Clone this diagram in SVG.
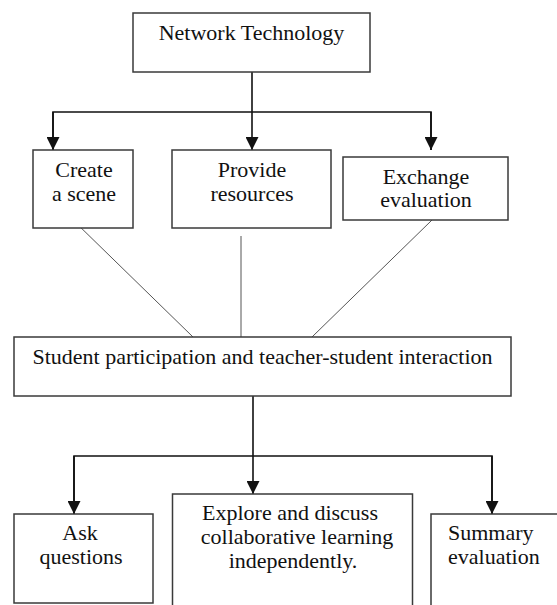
<svg xmlns="http://www.w3.org/2000/svg" width="557" height="605" viewBox="0 0 557 605">
<defs>
<style>
.box{fill:#fff;stroke:#3a3a3a;stroke-width:1.5}
.t{font-family:'Liberation Serif','Times New Roman','DejaVu Serif',serif;font-size:22px;fill:#111;text-anchor:middle}
.tl{text-anchor:start}
.c{fill:none;stroke:#111;stroke-width:1.6}
.d{fill:none;stroke:#555;stroke-width:1}
</style>
<marker id="ah" viewBox="0 0 10 10" refX="10" refY="5" markerWidth="13" markerHeight="13" markerUnits="userSpaceOnUse" orient="auto">
<path d="M0,0 L10,5 L0,10 z" fill="#111"/>
</marker>
</defs>
<rect width="557" height="605" fill="#fff"/>
<g id="connectors">
<path class="c" d="M252,72 V150" marker-end="url(#ah)"/>
<path class="c" d="M53,150 V112 H431 V150" />
<path class="c" d="M53,112 V150" marker-end="url(#ah)"/>
<path class="c" d="M431,112 V150" marker-end="url(#ah)"/>
<line class="d" x1="73" y1="220" x2="193" y2="337"/>
<line class="d" x1="241" y1="236" x2="241" y2="337"/>
<line class="d" x1="432" y1="220" x2="312" y2="337"/>
<path class="c" d="M253,396 V494" marker-end="url(#ah)"/>
<path class="c" d="M74,514 V456 H492 V514"/>
<path class="c" d="M74,456 V514" marker-end="url(#ah)"/>
<path class="c" d="M492,456 V514" marker-end="url(#ah)"/>
</g>
<g font-family="Liberation Serif, DejaVu Serif, serif">
<g id="network">
<rect class="box" x="133" y="13" width="237" height="59"/>
<text class="t" x="251.5" y="40">Network Technology</text>
</g>
<g id="create">
<rect class="box" x="33" y="150" width="100" height="78"/>
<text class="t" x="84" y="177">Create</text>
<text class="t" x="84" y="201">a scene</text>
</g>
<g id="provide">
<rect class="box" x="172" y="150" width="159" height="78"/>
<text class="t" x="252" y="177">Provide</text>
<text class="t" x="252" y="201">resources</text>
</g>
<g id="exchange">
<rect class="box" x="343" y="157" width="165" height="63"/>
<text class="t" x="426" y="184">Exchange</text>
<text class="t" x="426" y="207">evaluation</text>
</g>
<g id="student">
<rect class="box" x="14" y="337" width="497" height="59"/>
<text class="t" x="262.5" y="364">Student participation and teacher-student interaction</text>
</g>
<g id="ask">
<rect class="box" x="14" y="514" width="139" height="89"/>
<text class="t" x="80" y="540">Ask</text>
<text class="t" x="81" y="564">questions</text>
</g>
<g id="explore">
<rect class="box" x="172.5" y="494" width="240" height="120"/>
<text class="t" x="290" y="520">Explore and discuss</text>
<text class="t" x="297" y="544">collaborative learning</text>
<text class="t" x="293" y="568">independently.</text>
</g>
<g id="summary">
<rect class="box" x="431" y="514" width="140" height="100"/>
<text class="t tl" x="448" y="540">Summary</text>
<text class="t tl" x="448" y="564">evaluation</text>
</g>
</g>
</svg>
